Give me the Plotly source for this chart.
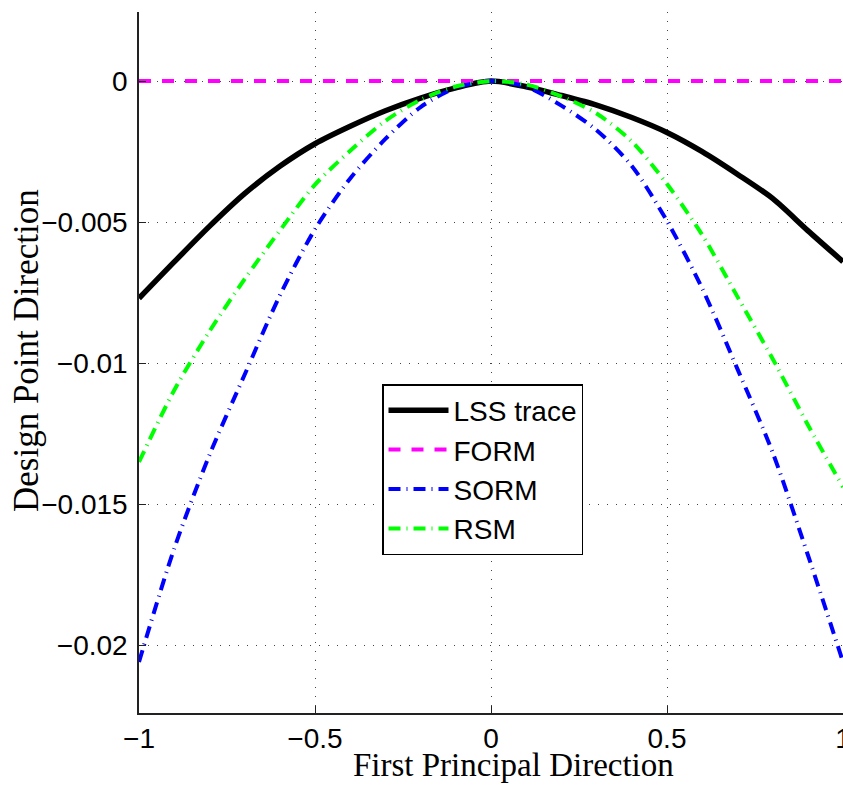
import plotly.graph_objects as go

x_vals = [-1.0, -0.9, -0.8, -0.7, -0.6, -0.5, -0.4, -0.3, -0.2, -0.1, 0.0,
          0.1, 0.2, 0.3, 0.4, 0.5, 0.6, 0.7, 0.8, 0.9, 1.0]

lss_trace = [-0.00770, -0.00641, -0.00515, -0.00399, -0.00302, -0.00222, -0.00160,
             -0.00105, -0.00060, -0.00024, 0.0, -0.00020, -0.00051, -0.00085,
             -0.00129, -0.00182, -0.00250, -0.00330, -0.00416, -0.00530, -0.00640]
form = [0.0] * 21
sorm = [-0.02059, -0.01657, -0.01326, -0.01041, -0.00760, -0.00525, -0.00345,
        -0.00205, -0.00092, -0.00024, 0.0, -0.00020, -0.00087, -0.00174,
        -0.00301, -0.00496, -0.00735, -0.01020, -0.01316, -0.01679, -0.02059]
rsm = [-0.01350, -0.01096, -0.00887, -0.00702, -0.00530, -0.00367, -0.00247,
       -0.00141, -0.00066, -0.00019, 0.0, -0.00012, -0.00054, -0.00115,
       -0.00214, -0.00365, -0.00545, -0.00764, -0.00984, -0.01218, -0.01439]

x_ticks = [-1, -0.5, 0, 0.5, 1]
x_tick_text = ["\u22121", "\u22120.5", "0", "0.5", "1"]
y_ticks = [0, -0.005, -0.01, -0.015, -0.02]
y_tick_text = ["0", "\u22120.005", "\u22120.01", "\u22120.015", "\u22120.02"]

W, H = 843, 785
PL, PR, PT, PB = 139, 843, 12, 713  # plot area, in pixels

fig = go.Figure()
fig.add_trace(go.Scatter(x=x_vals, y=lss_trace, mode="lines", name="LSS trace",
                         line=dict(color="black", width=5.5, shape="spline", smoothing=0.8)))
fig.add_trace(go.Scatter(x=x_vals, y=form, mode="lines", name="FORM",
                         line=dict(color="#ff00ff", width=4, dash="12px,11px")))
fig.add_trace(go.Scatter(x=x_vals, y=sorm, mode="lines", name="SORM",
                         line=dict(color="#0000ff", width=4, dash="12px,6px,1px,6px",
                                   shape="spline", smoothing=0.8)))
fig.add_trace(go.Scatter(x=x_vals, y=rsm, mode="lines", name="RSM",
                         line=dict(color="#00ff00", width=4, dash="12px,6px,1px,6px",
                                   shape="spline", smoothing=0.8)))

axis_common = dict(
    showgrid=True, gridcolor="#444", griddash="1px,8px", gridwidth=1,
    zeroline=False, showline=True, linecolor="#222", linewidth=1.5,
    ticks="inside", ticklen=7, tickcolor="#222", automargin=False,
    ticklabeloverflow="allow",
    tickfont=dict(family="Liberation Sans, Arial", size=28, color="black"),
)

fig.update_layout(
    width=W, height=H,
    margin=dict(l=PL, r=W - PR, t=PT, b=H - PB, autoexpand=False),
    paper_bgcolor="white", plot_bgcolor="white",
    showlegend=True,
    legend=dict(x=(382 - PL) / (PR - PL), y=(PB - 384) / (PB - PT), xanchor="left", yanchor="top",
                bgcolor="white", bordercolor="black", borderwidth=1.5,
                font=dict(family="Liberation Sans, Arial", size=28, color="black"),
                itemwidth=60, tracegroupgap=0),
    xaxis=dict(range=[-1, 1], tickvals=x_ticks, ticktext=x_tick_text, **axis_common),
    yaxis=dict(range=[-0.0224, 0.00245], tickvals=y_ticks, ticktext=y_tick_text,
               ticklabelstandoff=4, **axis_common),
)
fig.update_layout(annotations=[
    dict(text="First Principal Direction", x=(513 - PL) / (PR - PL), y=-(765 - PB) / (PB - PT),
         xref="paper", yref="paper", xanchor="center", yanchor="middle", showarrow=False,
         font=dict(family="Liberation Serif, Times New Roman", size=33, color="black")),
    dict(text="Design Point Direction", x=-(PL - 27) / (PR - PL), y=(PB - 351) / (PB - PT),
         xref="paper", yref="paper", xanchor="center", yanchor="middle", showarrow=False,
         textangle=-90,
         font=dict(family="Liberation Serif, Times New Roman", size=35, color="black")),
])

# Remove the browser's default 8px body margin so the figure fills the window exactly.
page_css = "document.body.style.margin='0';document.body.style.overflow='hidden';"
fig.write_html("out.html", post_script=page_css, config={"displayModeBar": False})
